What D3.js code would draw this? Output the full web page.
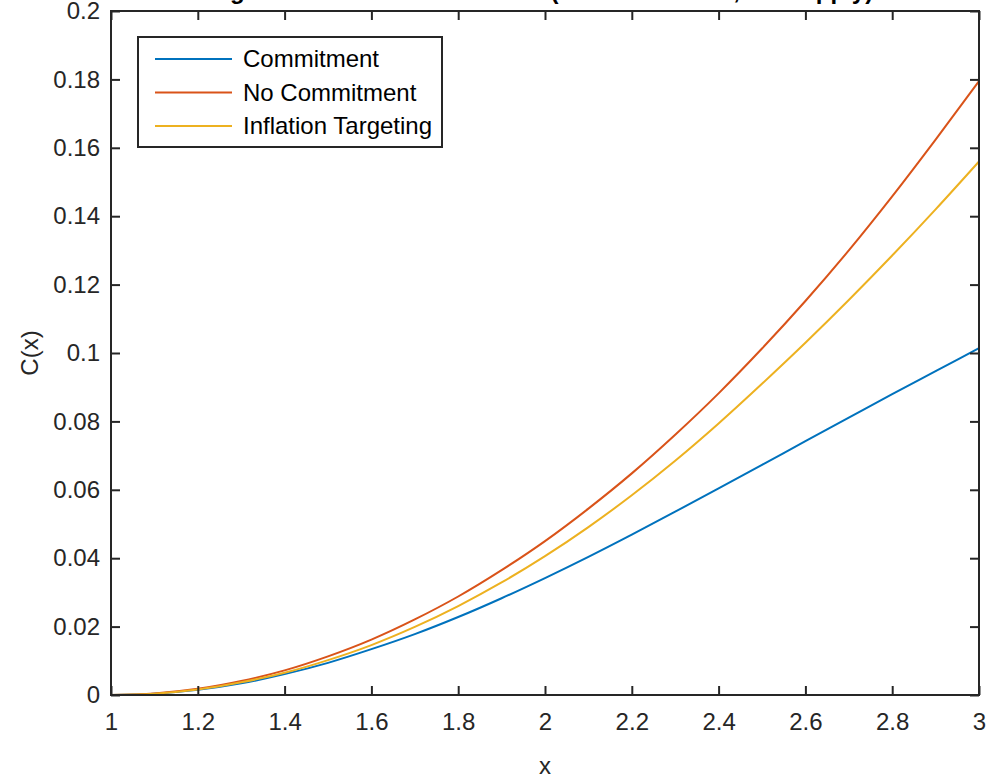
<!DOCTYPE html>
<html>
<head>
<meta charset="utf-8">
<script src="https://cdn.jsdelivr.net/npm/d3@7/dist/d3.min.js"></script>
<style>
  html, body { margin: 0; padding: 0; background: #fff; }
  svg { display: block; }
  text { font-family: "Liberation Sans", Arial, Helvetica, sans-serif; }
</style>
</head>
<body>
<svg id="chart" width="989" height="782"></svg>
<script>
// ---- data ----
const xValues = [1.0, 1.1, 1.2, 1.3, 1.4, 1.5, 1.6, 1.7, 1.8, 1.9, 2.0,
                 2.1, 2.2, 2.3, 2.4, 2.5, 2.6, 2.7, 2.8, 2.9, 3.0];
const commitment = [0, 0.0004, 0.0015, 0.0034, 0.0061, 0.0094, 0.0134, 0.0178, 0.0228, 0.0283, 0.0342,
                    0.0404, 0.0469, 0.0536, 0.0604, 0.0673, 0.0742, 0.0811, 0.0880, 0.0947, 0.1014];
const noCommitment = [0, 0.00045, 0.0018, 0.0041, 0.0072, 0.0113, 0.0162, 0.0221, 0.0288, 0.0365, 0.0450,
                      0.0545, 0.0648, 0.0761, 0.0882, 0.1013, 0.1152, 0.1300, 0.1458, 0.1624, 0.1795];
const inflationTargeting = [0, 0.0004, 0.0016, 0.0037, 0.0065, 0.0102, 0.0146, 0.0199, 0.0260, 0.0329, 0.0406,
                            0.0491, 0.0584, 0.0685, 0.0794, 0.0910, 0.1030, 0.1155, 0.1285, 0.1420, 0.1560];
const seriesNames = ["Commitment", "No Commitment", "Inflation Targeting"];
const seriesColors = ["#0072BD", "#D95319", "#EDB120"];
const xTicks = [1, 1.2, 1.4, 1.6, 1.8, 2, 2.2, 2.4, 2.6, 2.8, 3];
const yTicks = [0, 0.02, 0.04, 0.06, 0.08, 0.1, 0.12, 0.14, 0.16, 0.18, 0.2];
const titleText = "Long-Run Total Welfare Losses (Baseline Model, No Supply)";
const xLabel = "x";
const yLabel = "C(x)";

// ---- layout ----
const svg = d3.select("#chart");
const m = { left: 111, right: 979, top: 11, bottom: 695 };
const axisColor = "#262626";
const fontSize = 24;

const x = d3.scaleLinear().domain([1, 3]).range([m.left, m.right]);
const y = d3.scaleLinear().domain([0, 0.2]).range([m.bottom, m.top]);

// title (cut off at the top of the picture, as in the reference)
svg.append("text")
  .attr("x", 186)
  .attr("y", -1)
  .attr("text-anchor", "start")
  .attr("font-weight", "bold")
  .attr("font-size", fontSize)
  .attr("fill", "#000")
  .text(titleText);

// series
const series = [commitment, noCommitment, inflationTargeting];
const line = d3.line()
  .x(d => x(d[0]))
  .y(d => y(d[1]))
  .curve(d3.curveMonotoneX);

const plot = svg.append("g");
series.forEach((vals, i) => {
  plot.append("path")
    .datum(xValues.map((xv, j) => [xv, vals[j]]))
    .attr("fill", "none")
    .attr("stroke", seriesColors[i])
    .attr("stroke-width", 2)
    .attr("d", line);
});

// axes: ticks inside on all four sides
const tickLen = 9;
const bottomAxis = d3.axisBottom(x).tickValues(xTicks).tickSize(-tickLen).tickPadding(18)
  .tickFormat(d3.format("~g"));
const leftAxis = d3.axisLeft(y).tickValues(yTicks).tickSize(-tickLen).tickPadding(11)
  .tickFormat(d3.format("~g"));
const topAxis = d3.axisTop(x).tickValues(xTicks).tickSize(-tickLen).tickFormat("");
const rightAxis = d3.axisRight(y).tickValues(yTicks).tickSize(-tickLen).tickFormat("");

function style(g) {
  g.select(".domain").attr("stroke", axisColor).attr("stroke-width", 2);
  g.selectAll(".tick line").attr("stroke", axisColor).attr("stroke-width", 2);
  g.selectAll(".tick text")
    .attr("fill", axisColor)
    .attr("font-size", fontSize)
    .attr("font-family", "'Liberation Sans', Arial, sans-serif");
}

svg.append("g").attr("transform", `translate(0,${m.bottom})`).call(bottomAxis).call(style);
svg.append("g").attr("transform", `translate(${m.left},0)`).call(leftAxis).call(style);
svg.append("g").attr("transform", `translate(0,${m.top})`).call(topAxis).call(style);
svg.append("g").attr("transform", `translate(${m.right},0)`).call(rightAxis).call(style);

// clean axes box
svg.selectAll(".domain").remove();
svg.append("rect")
  .attr("x", m.left).attr("y", m.top)
  .attr("width", m.right - m.left).attr("height", m.bottom - m.top)
  .attr("fill", "none").attr("stroke", axisColor).attr("stroke-width", 2);

// axis labels
svg.append("text")
  .attr("x", (m.left + m.right) / 2)
  .attr("y", 774)
  .attr("text-anchor", "middle")
  .attr("font-size", fontSize)
  .attr("fill", axisColor)
  .text(xLabel);

svg.append("text")
  .attr("transform", `translate(38,${(m.top + m.bottom) / 2}) rotate(-90)`)
  .attr("text-anchor", "middle")
  .attr("font-size", fontSize)
  .attr("fill", axisColor)
  .text(yLabel);

// legend
const legend = svg.append("g");
const lg = { x: 138, y: 37, w: 304, h: 110 };
legend.append("rect")
  .attr("x", lg.x).attr("y", lg.y).attr("width", lg.w).attr("height", lg.h)
  .attr("fill", "#fff").attr("stroke", axisColor).attr("stroke-width", 2);
seriesNames.forEach((name, i) => {
  const cy = 59 + i * 33.5;
  legend.append("line")
    .attr("x1", 155).attr("x2", 232).attr("y1", cy).attr("y2", cy)
    .attr("stroke", seriesColors[i]).attr("stroke-width", 2);
  legend.append("text")
    .attr("x", 243).attr("y", cy)
    .attr("dy", "0.35em")
    .attr("font-size", fontSize)
    .attr("fill", "#000")
    .text(name);
});
</script>
</body>
</html>
